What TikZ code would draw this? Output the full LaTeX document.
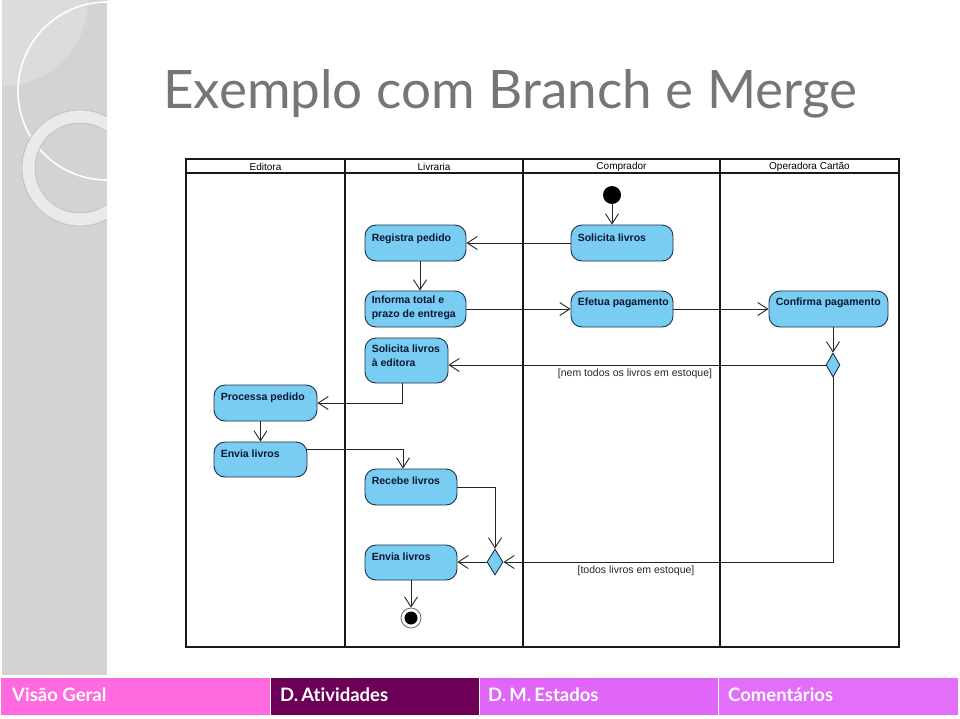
\documentclass[tikz,border=0pt]{standalone}
\usepackage{fontspec}
\setmainfont{Liberation Sans}
\newfontfamily\gill[Ligatures=NoCommon]{Lato}
\usetikzlibrary{arrows.meta,shapes.geometric,calc}
\definecolor{side}{HTML}{D3D3D3}
\definecolor{sidelight}{HTML}{DCDCDC}
\definecolor{ringfill}{HTML}{EAEAEA}
\definecolor{ringedge}{HTML}{B8B8B8}
\definecolor{titlegray}{HTML}{767676}
\definecolor{actfill}{HTML}{79CDF3}
\definecolor{actdraw}{HTML}{1C3048}
\definecolor{acttext}{HTML}{0B1630}
\definecolor{tabA}{HTML}{FF6ADF}
\definecolor{tabB}{HTML}{6C0056}
\definecolor{tabC}{HTML}{DF66F7}
\definecolor{tabD}{HTML}{E36EF9}
\tikzset{
  frame/.style={draw=black!90, line width=1.8pt},
  hdr/.style={font=\fontsize{10}{12}\selectfont, inner sep=0pt},
  act/.style={draw=actdraw, fill=actfill, rounded corners=11pt, line width=0.9pt, inner sep=0pt},
  lbl/.style={font=\fontsize{10.5}{14}\selectfont\bfseries, text=acttext, inner sep=0pt, anchor=north west, align=left},
  flow/.style={draw=black!85, line width=0.9pt, -{Straight Barb[length=10pt,width=13pt,line width=0.9pt]}},
  guard/.style={font=\fontsize{10.5}{12}\selectfont, inner sep=0pt, text=black!85},
  dia/.style={diamond, draw=actdraw, fill=actfill, line width=0.9pt, inner sep=0pt, aspect=0.6},
  tabtxt/.style={font=\gill\bfseries\fontsize{18.5}{20}\selectfont, text=white, anchor=base west, inner sep=0pt}
}
\begin{document}
\begin{tikzpicture}[x=1pt,y=-1pt]
\useasboundingbox (0,0) rectangle (960,718);
\fill[white] (0,0) rectangle (960,718);
% sidebar
\begin{scope}
  \clip (2,0) rectangle (107,675);
  \fill[side] (2,0) rectangle (107,675);
  \fill[sidelight] (2,0) circle (86);
  \draw[white, line width=1.6pt] (107,91) circle (89);
  \fill[ringfill, even odd rule] (80,168) circle (58) (80,168) circle (45);
  \draw[ringedge, line width=0.6pt] (80,168) circle (58) (80,168) circle (45);
\end{scope}
% title
\node[font=\gill\fontsize{53}{60}\selectfont, text=titlegray, anchor=base west, inner sep=0pt] (title) at (163,108) {Exemplo com Branch e Merge};
% frame and swimlanes
\draw[frame] (186,159) rectangle (899,647);
\draw[frame] (186,173) -- (899,173);
\draw[frame] (345,159) -- (345,647);
\draw[frame] (523,159) -- (523,647);
\draw[frame] (720,159) -- (720,647);
\node[hdr] (hEd) at (265.5,166.5) {Editora};
\node[hdr] (hLi) at (434,166.5) {Livraria};
\node[hdr] (hCo) at (621.5,166.5) {Comprador};
\node[hdr] (hOp) at (809.5,166.5) {Operadora Cartão};
% activities
\node[act, minimum width=101pt, minimum height=36pt] (reg) at (415.5,243) {};
\node[lbl] (regT) at ([xshift=7pt,yshift=-9pt]reg.north west) {Registra pedido};
\node[act, minimum width=102pt, minimum height=36pt] (sol) at (622,243) {};
\node[lbl] (solT) at ([xshift=7pt,yshift=-9pt]sol.north west) {Solicita livros};
\node[act, minimum width=101pt, minimum height=36pt] (inf) at (415.5,309) {};
\node[lbl] (infT) at ([xshift=7pt,yshift=-5pt]inf.north west) {Informa total e\\prazo de entrega};
\node[act, minimum width=102pt, minimum height=36pt] (efe) at (622,309) {};
\node[lbl] (efeT) at ([xshift=7pt,yshift=-7pt]efe.north west) {Efetua pagamento};
\node[act, minimum width=119pt, minimum height=36pt] (conf) at (828.5,309) {};
\node[lbl] (confT) at ([xshift=7pt,yshift=-7pt]conf.north west) {Confirma pagamento};
\node[act, minimum width=83pt, minimum height=45pt] (sed) at (406.5,360.5) {};
\node[lbl] (sedT) at ([xshift=7pt,yshift=-7pt]sed.north west) {Solicita livros\\à editora};
\node[act, minimum width=103pt, minimum height=36pt] (proc) at (265.5,403) {};
\node[lbl] (procT) at ([xshift=7pt,yshift=-8pt]proc.north west) {Processa pedido};
\node[act, minimum width=93pt, minimum height=35pt] (envA) at (260.5,459.5) {};
\node[lbl] (envAT) at ([xshift=7pt,yshift=-8pt]envA.north west) {Envia livros};
\node[act, minimum width=92pt, minimum height=36pt] (rec) at (411,487) {};
\node[lbl] (recT) at ([xshift=7pt,yshift=-8pt]rec.north west) {Recebe livros};
\node[act, minimum width=92pt, minimum height=35pt] (envB) at (411,562.5) {};
\node[lbl] (envBT) at ([xshift=7pt,yshift=-8pt]envB.north west) {Envia livros};
% control nodes
\node[circle, fill=black, minimum size=18pt, inner sep=0pt] (init) at (612,195) {};
\node[dia, minimum width=14pt, minimum height=24pt] (dec) at (833,365) {};
\node[dia, minimum width=16pt, minimum height=26pt] (merge) at (495,562) {};
\node[circle, draw=black!60, fill=white, line width=0.8pt, minimum size=20pt, inner sep=0pt] (fin) at (411,618) {};
\node[circle, fill=black, minimum size=13pt, inner sep=0pt] (finIn) at (fin.center) {};
% flows
\draw[flow] (init.south) -- (init.south |- sol.north);
\draw[flow] (sol.west) -- (reg.east);
\draw[flow] ([xshift=4.5pt]reg.south) -- ([xshift=4.5pt]inf.north);
\draw[flow] (inf.east) -- (efe.west);
\draw[flow] (efe.east) -- (conf.west);
\draw[flow] (dec.north |- conf.south) -- (dec.north);
\draw[flow] (dec.west) -- (dec.west -| sed.east);
\node[guard, anchor=north] (g1) at (635,369) {[nem todos os livros em estoque]};
\draw[flow] ([xshift=-4.5pt]sed.south) |- (proc.east);
\draw[flow] (proc.south -| envA.north) -- (envA.north);
\draw[flow] ([yshift=10pt]envA.east) -| ([xshift=-8pt]rec.north);
\draw[flow] (rec.east) -| (merge.north);
\draw[flow] (dec.south) |- (merge.east);
\node[guard, anchor=north] (g2) at (636,566) {[todos livros em estoque]};
\draw[flow] (merge.west) -- (merge.west -| envB.east);
\draw[flow] (envB.south) -- (fin.north);
% bottom tabs
\fill[tabA] (1,678) rectangle (270,715);
\fill[tabB] (271,678) rectangle (479,715);
\fill[tabC] (480,678) rectangle (718,715);
\fill[tabD] (719,678) rectangle (958,715);
\draw[white, line width=1.2pt] (270.5,678) -- (270.5,715) (479.5,678) -- (479.5,715) (718.5,678) -- (718.5,715);
\node[tabtxt] (t1) at (12,701) {Visão Geral};
\node[tabtxt] (t2) at (280,701) {D.\,Atividades};
\node[tabtxt] (t3) at (488,701) {D.\,M.\,Estados};
\node[tabtxt] (t4) at (728,701) {Comentários};
\end{tikzpicture}
\end{document}
